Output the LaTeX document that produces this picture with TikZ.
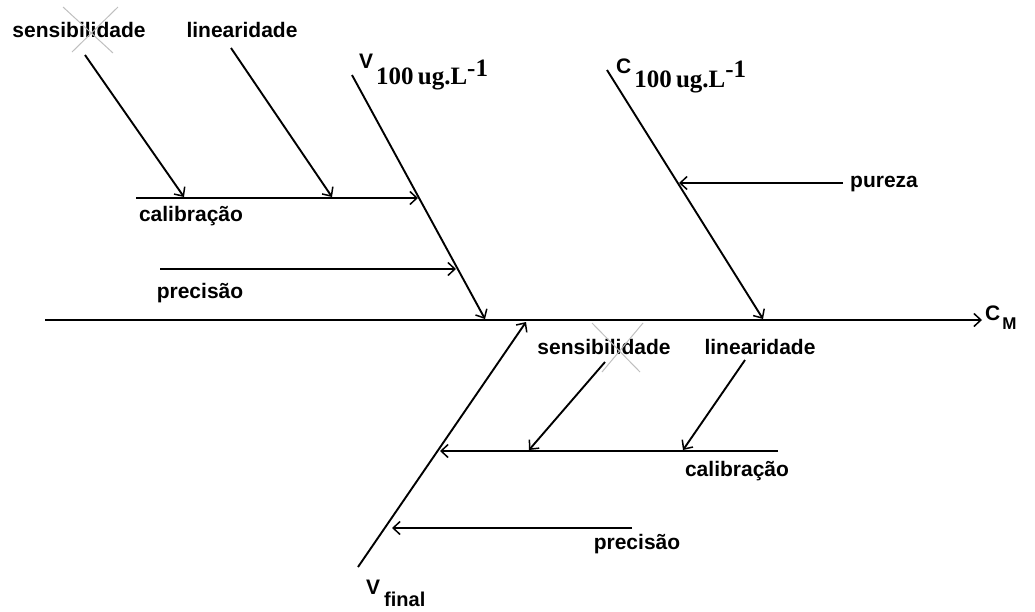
\documentclass[tikz,border=0pt]{standalone}
\usepackage{fontspec}
\setmainfont{Liberation Serif}
\setsansfont{Liberation Sans}
\usetikzlibrary{arrows.meta}
\tikzset{
  bone/.style={line width=1.9pt, -{Straight Barb[length=7pt,width=13pt,line width=1.5pt]}},
  lbl/.style={font=\sffamily\bfseries\fontsize{21}{24}\selectfont, inner sep=0pt},
  mlbl/.style={inner sep=0pt, anchor=base west},
  crossout/.style={gray!50, line width=1pt}
}
\newcommand{\bigsans}[1]{{\sffamily\bfseries\fontsize{21}{21}\selectfont #1}}
\newcommand{\subser}[1]{{\rmfamily\bfseries\fontsize{25}{25}\selectfont #1}}
\newcommand{\supser}[1]{{\rmfamily\bfseries\fontsize{25}{25}\selectfont #1}}
\begin{document}
\begin{tikzpicture}[x=1pt,y=-1pt]
\useasboundingbox (0,0) rectangle (1035,611);
% spine
\coordinate (s0) at (45,320);
\coordinate (s1) at (982,320);
\draw[bone] (s0) -- (s1);
\node[mlbl] (cm) at (985,320) {\bigsans{C}\hspace{2pt}\raisebox{-9pt}{\sffamily\bfseries\fontsize{17}{17}\selectfont M}};
% V100 bone
\coordinate (v1) at (352,75);
\coordinate (v2) at (485,319);
\draw[bone] (v1) -- (v2);
\node[mlbl] (vlab) at (359,68) {\bigsans{V}\hspace{3pt}\raisebox{-16pt}{\subser{100\,ug.L}}\raisebox{-8pt}{\supser{-1}}};
% C100 bone
\coordinate (c1) at (607,70);
\coordinate (c2) at (763,319);
\draw[bone] (c1) -- (c2);
\node[mlbl] (clab) at (616,73) {\bigsans{C}\hspace{3pt}\raisebox{-14pt}{\subser{100\,ug.L}}\raisebox{-4pt}{\supser{-1}}};
% pureza
\coordinate (p1) at (843,183);
\coordinate (p2) at (679,183);
\draw[bone] (p1) -- (p2);
\node[lbl, anchor=west] (pur) at (850,184) {pureza};
% upper calibracao
\coordinate (ca1) at (136,198);
\coordinate (ca2) at (418,198);
\draw[bone] (ca1) -- (ca2);
\node[lbl] (calu) at (191,216) {calibração};
% upper sensibilidade / linearidade
\coordinate (us1) at (85,55);
\coordinate (us2) at (184,197);
\draw[bone] (us1) -- (us2);
\node[lbl] (sensu) at (79,30) {sensibilidade};
\draw[crossout] (63,7) -- (113,53);
\draw[crossout] (118,7) -- (72,52);
\coordinate (ul1) at (231,48);
\coordinate (ul2) at (332,197);
\draw[bone] (ul1) -- (ul2);
\node[lbl] (linu) at (242,30) {linearidade};
% upper precisao
\coordinate (pr1) at (160,269);
\coordinate (pr2) at (456,269);
\draw[bone] (pr1) -- (pr2);
\node[lbl] (precu) at (200,293) {precisão};
% V final bone
\coordinate (f1) at (358,567);
\coordinate (f2) at (526,322);
\draw[bone] (f1) -- (f2);
\node[mlbl] (vf) at (366,594) {\bigsans{V}\hspace{4pt}\raisebox{-12pt}{\sffamily\bfseries\fontsize{20}{20}\selectfont final}};
% lower calibracao
\coordinate (lc1) at (778,451);
\coordinate (lc2) at (440,451);
\draw[bone] (lc1) -- (lc2);
\node[lbl] (call) at (737,471) {calibração};
% lower sensibilidade / linearidade
\coordinate (ls1) at (605,362);
\coordinate (ls2) at (529,450);
\draw[bone] (ls1) -- (ls2);
\node[lbl] (sensl) at (604,347) {sensibilidade};
\draw[crossout] (592,323) -- (640,372);
\draw[crossout] (643,323) -- (602,372);
\coordinate (ll1) at (745,360);
\coordinate (ll2) at (683,450);
\draw[bone] (ll1) -- (ll2);
\node[lbl] (linl) at (760,347) {linearidade};
% lower precisao
\coordinate (lp1) at (632,528);
\coordinate (lp2) at (392,528);
\draw[bone] (lp1) -- (lp2);
\node[lbl] (precl) at (637,544) {precisão};
\end{tikzpicture}
\end{document}
